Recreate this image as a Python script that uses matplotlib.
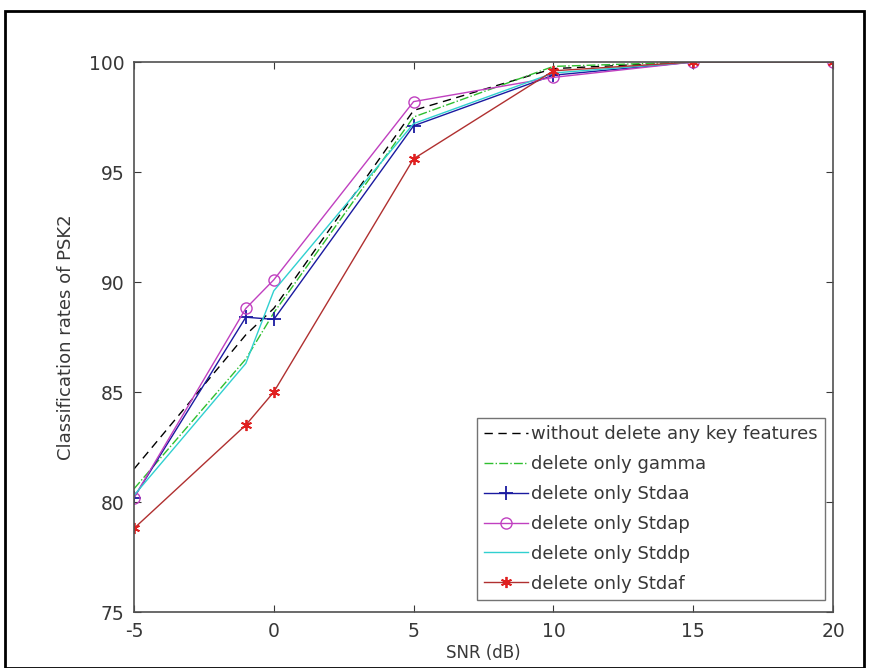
import matplotlib
matplotlib.use("Agg")
import matplotlib.pyplot as plt
from matplotlib.patches import Rectangle

snr = [-5, -1, 0, 5, 10, 15, 20]
without_delete = [81.5, 87.6, 88.8, 97.8, 99.7, 100, 100]
del_gamma = [80.6, 86.5, 88.6, 97.5, 99.8, 100, 100]
del_stdaa = [80.2, 88.4, 88.3, 97.1, 99.4, 100, 100]
del_stdap = [80.2, 88.8, 90.1, 98.2, 99.3, 100, 100]
del_stddp = [80.3, 86.3, 89.6, 97.2, 99.5, 100, 100]
del_stdaf = [78.8, 83.5, 85.0, 95.6, 99.6, 100, 100]

labels = ["without delete any key features", "delete only gamma", "delete only Stdaa",
          "delete only Stdap", "delete only Stddp", "delete only Stdaf"]
xticks = [-5, 0, 5, 10, 15, 20]
yticks = [75, 80, 85, 90, 95, 100]

plt.rcParams['font.family'] = ['DejaVu Sans']
plt.rcParams['axes.unicode_minus'] = False

fig = plt.figure(figsize=(8.69, 6.68), dpi=100)
ax = fig.add_axes([134/869, 1-612/668, (833-134)/869, (612-62)/668])

ax.plot(snr, without_delete, color='black', linestyle=(0, (6, 4)), linewidth=1.0, label=labels[0])
ax.plot(snr, del_gamma, color='#2fbf2f', linestyle='-.', linewidth=1.0, label=labels[1])
ax.plot(snr, del_stdaa, color='#1a1aa0', linestyle='-', marker='+', markersize=10, markeredgewidth=1.3, linewidth=1.0, label=labels[2])
ax.plot(snr, del_stdap, color='#c040c0', linestyle='-', marker='o', markersize=8, markerfacecolor='none', markeredgewidth=1.0, linewidth=1.0, label=labels[3])
ax.plot(snr, del_stddp, color='#30d0d0', linestyle='-', linewidth=1.0, label=labels[4])
ax.plot(snr, del_stdaf, color='#b03030', linestyle='-', marker=(6, 2, 0), markersize=8, markeredgewidth=1.3, markeredgecolor='#e02020', linewidth=1.0, label=labels[5])

ax.set_xlim(-5, 20)
ax.set_ylim(75, 100)
ax.set_xticks(xticks)
ax.set_yticks(yticks)
ax.tick_params(direction='in', top=True, right=True, labelsize=13.5, colors='#383838', length=5, pad=7)
for s in ax.spines.values():
    s.set_color('#505050')
    s.set_linewidth(1.2)

ax.set_xlabel("SNR (dB)", fontsize=12, color='#383838', labelpad=2)
ax.set_ylabel("Classification rates of PSK2", fontsize=13, color='#383838', labelpad=10)

leg = ax.legend(loc='lower right', bbox_to_anchor=(0.9886, 0.022), fontsize=13,
                handlelength=2.4, handletextpad=0.2, labelspacing=0.66, borderpad=0.4,
                borderaxespad=0.0, frameon=True, fancybox=False, edgecolor='#505050')
leg.get_frame().set_linewidth(1.0)
for t in leg.get_texts():
    t.set_color('#383838')

fig.patches.append(Rectangle((5/869, 0), (864-5)/869, 1-11/668, transform=fig.transFigure,
                             fill=False, edgecolor='black', linewidth=2, figure=fig))

fig.savefig("out.png", dpi=100)
